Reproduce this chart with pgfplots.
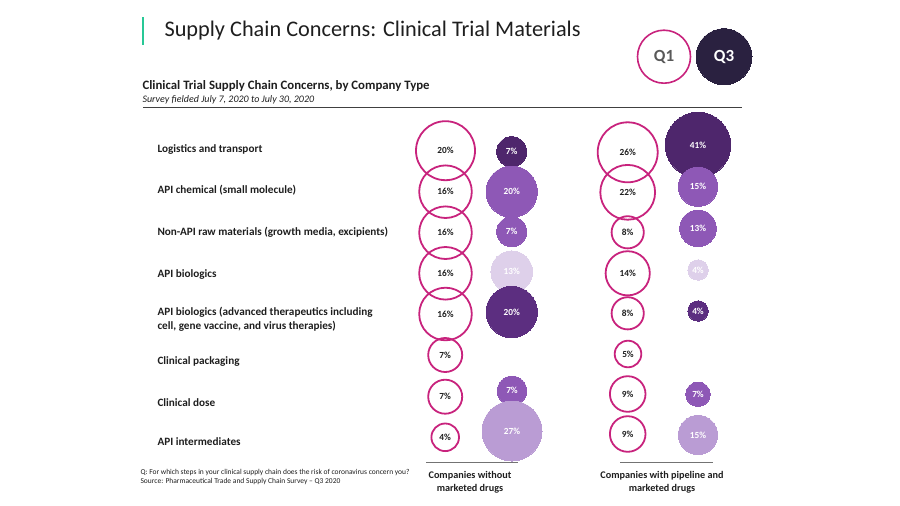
\documentclass[border=0pt]{standalone}
\usepackage{pgfplots}
\pgfplotsset{compat=1.18}
\usepackage{fontspec}
\setmainfont{Carlito}
\definecolor{ring}{RGB}{200,35,125}
\definecolor{dpurple}{RGB}{78,38,108}
\definecolor{dpurple2}{RGB}{92,46,128}
\definecolor{mpurple}{RGB}{142,88,182}
\definecolor{lpurple}{RGB}{186,156,212}
\definecolor{vlpurple}{RGB}{222,208,234}
\definecolor{navy}{RGB}{42,33,64}
\definecolor{tgreen}{RGB}{40,200,150}
\definecolor{txt}{RGB}{30,30,30}
\pgfplotsset{
  pctlab/.style={point meta=explicit symbolic,
    nodes near coords={\pgfplotspointmeta\%},
    nodes near coords align={center},
    every node near coord/.append style={anchor=center, text=#1,
      font=\fontsize{9.3}{10}\selectfont\bfseries}},
  qone/.style={only marks, mark=o, mark size=#1, draw=ring,
    mark options={draw=ring, line width=1.8pt, fill=none}, pctlab=txt},
  qthree/.style 2 args={only marks, mark=*, mark size=#2, draw=#1, fill=#1,
    mark options={draw=#1, line width=0pt, fill=#1}, pctlab=white},
}
\begin{document}
\begin{tikzpicture}
\begin{axis}[scale only axis, width=900pt, height=506pt,
  xmin=0, xmax=900, ymin=0, ymax=506, y dir=reverse,
  hide axis, clip=false]
\path (axis cs:0,0) rectangle (axis cs:900,506);
% header
\draw[tgreen, line width=2.5pt] (axis cs:143,17) -- (axis cs:143,45);
\node[anchor=west, text=txt, font=\fontsize{22.3}{24}\selectfont] at (axis cs:161,31) {Supply Chain Concerns: Clinical Trial Materials};
\node[anchor=west, text=txt, font=\fontsize{12.8}{14}\selectfont\bfseries] at (axis cs:139,86) {Clinical Trial Supply Chain Concerns, by Company Type};
\node[anchor=west, text=txt, font=\fontsize{10}{11}\selectfont\itshape] at (axis cs:139,99.5) {Survey fielded July 7, 2020 to July 30, 2020};
\draw[black!75, line width=1pt] (axis cs:143,107) -- (axis cs:742,107);
% row labels
\begin{scope}[every node/.style={anchor=west, text=txt, font=\fontsize{11.2}{13.5}\selectfont\bfseries, align=left}]
\node at (axis cs:154,150) {Logistics and transport};
\node at (axis cs:154,190) {API chemical (small molecule)};
\node at (axis cs:154,232) {Non-API raw materials (growth media, excipients)};
\node at (axis cs:154,275) {API biologics};
\node at (axis cs:154,319.5) {API biologics (advanced therapeutics including\\cell, gene vaccine, and virus therapies)};
\node at (axis cs:154,362) {Clinical packaging};
\node at (axis cs:154,403) {Clinical dose};
\node at (axis cs:154,442) {API intermediates};
\end{scope}
% Q1: companies without marketed drugs
\addplot[qone=29.5] coordinates {(445.5,150.7) [20]};
\addplot[qone=26.3] coordinates {(445.5,191.7) [16]};
\addplot[qone=26.3] coordinates {(445.5,232.7) [16]};
\addplot[qone=26.3] coordinates {(445.5,273.3) [16]};
\addplot[qone=26.3] coordinates {(445.5,314.0) [16]};
\addplot[qone=17.0] coordinates {(445.2,355.0) [7]};
\addplot[qone=17.0] coordinates {(445.2,396.7) [7]};
\addplot[qone=13.8] coordinates {(445.2,437.3) [4]};
% Q1: companies with pipeline and marketed drugs
\addplot[qone=30.0] coordinates {(627.7,152.3) [26]};
\addplot[qone=27.4] coordinates {(627.7,192.3) [22]};
\addplot[qone=16.1] coordinates {(627.7,232.3) [8]};
\addplot[qone=22.1] coordinates {(627.7,273.3) [14]};
\addplot[qone=16.1] coordinates {(627.7,313.3) [8]};
\addplot[qone=13.3] coordinates {(628.0,354.0) [5]};
\addplot[qone=17.8] coordinates {(627.7,394.0) [9]};
\addplot[qone=17.8] coordinates {(627.7,434.0) [9]};
% Q3: companies without marketed drugs
\addplot[qthree={dpurple}{15.0}] coordinates {(511.7,151.7) [7]};
\addplot[qthree={mpurple}{25.7}] coordinates {(511.7,191.7) [20]};
\addplot[qthree={mpurple}{15.0}] coordinates {(511.7,231.7) [7]};
\addplot[qthree={vlpurple}{20.8}] coordinates {(511.7,271.7) [13]};
\addplot[qthree={dpurple2}{25.7}] coordinates {(511.7,312.0) [20]};
\addplot[qthree={mpurple}{14.7}] coordinates {(512.0,390.8) [7]};
\addplot[qthree={lpurple}{30.0}] coordinates {(512.0,431.0) [27]};
% Q3: companies with pipeline and marketed drugs
\addplot[qthree={dpurple}{32.7}] coordinates {(698.0,145.0) [41]};
\addplot[qthree={mpurple}{19.7}] coordinates {(698.0,186.7) [15]};
\addplot[qthree={mpurple}{18.3}] coordinates {(698.0,228.3) [13]};
\addplot[qthree={vlpurple}{10.2}] coordinates {(698.0,270.0) [4]};
\addplot[qthree={dpurple2}{10.2}] coordinates {(698.0,311.0) [4]};
\addplot[qthree={mpurple}{12.3}] coordinates {(698.0,394.3) [7]};
\addplot[qthree={lpurple}{19.7}] coordinates {(698.0,435.0) [15]};
% Q1 / Q3 legend circles
\addplot[only marks, mark=o, mark size=26.5, draw=ring, mark options={draw=ring, line width=1.6pt, fill=none},
  point meta=explicit symbolic, nodes near coords, nodes near coords align={center},
  every node near coord/.append style={anchor=center, text=black!65, font=\fontsize{17}{19}\selectfont\bfseries}]
  coordinates {(664,56.7) [Q1]};
\addplot[only marks, mark=*, mark size=28, draw=navy, fill=navy, mark options={draw=navy, line width=0pt, fill=navy},
  point meta=explicit symbolic, nodes near coords, nodes near coords align={center},
  every node near coord/.append style={anchor=center, text=white, font=\fontsize{17}{19}\selectfont\bfseries}]
  coordinates {(724,56.7) [Q3]};
% base lines and column labels
\draw[black!55, line width=1.2pt] (axis cs:426,462.3) -- (axis cs:518,462.3);
\draw[black!55, line width=1.2pt] (axis cs:620,462.3) -- (axis cs:713,462.3);
\node[text=txt, align=center, font=\fontsize{10.2}{12.8}\selectfont\bfseries] at (axis cs:470,482) {Companies without\\marketed drugs};
\node[text=txt, align=center, font=\fontsize{10.2}{12.8}\selectfont\bfseries] at (axis cs:662,482) {Companies with pipeline and\\marketed drugs};
% footnotes
\node[anchor=west, text=txt, align=left, font=\fontsize{7.5}{9.5}\selectfont] at (axis cs:137,477) {Q: For which steps in your clinical supply chain does the risk of coronavirus concern you?\\Source: Pharmaceutical Trade and Supply Chain Survey -- Q3 2020};
\end{axis}
\end{tikzpicture}
\end{document}
